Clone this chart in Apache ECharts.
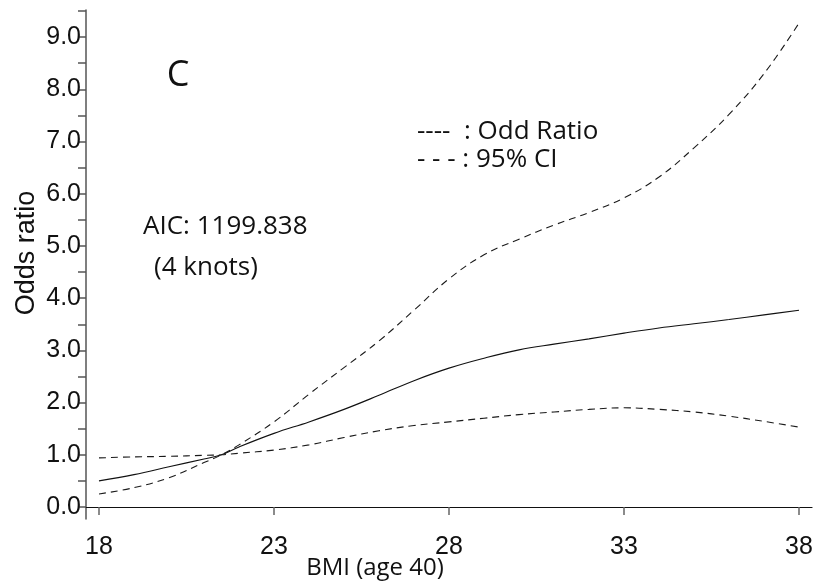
<!DOCTYPE html>
<html>
<head>
<meta charset="utf-8">
<script src="https://cdn.jsdelivr.net/npm/echarts@6/dist/echarts.min.js"></script>
<style>html,body{margin:0;padding:0;background:#fff}#c{width:821px;height:586px}</style>
</head>
<body>
<div id="c"></div>
<script>
const bmi      = [18, 19, 20, 21, 21.5, 22, 23, 24, 25, 26, 27, 28, 29, 30, 31, 32, 33, 34, 35, 36, 37, 38];
const oddRatio = [0.50, 0.62, 0.77, 0.92, 1.00, 1.15, 1.41, 1.63, 1.87, 2.14, 2.42, 2.66, 2.85, 3.01, 3.12, 3.22, 3.33, 3.43, 3.51, 3.59, 3.68, 3.77];
const ciUpper  = [0.25, 0.37, 0.56, 0.85, 1.00, 1.19, 1.63, 2.16, 2.67, 3.18, 3.77, 4.37, 4.83, 5.13, 5.40, 5.64, 5.92, 6.32, 6.88, 7.52, 8.30, 9.27];
const ciLower  = [0.94, 0.96, 0.97, 0.99, 1.00, 1.03, 1.09, 1.19, 1.33, 1.46, 1.56, 1.63, 1.70, 1.77, 1.82, 1.87, 1.90, 1.87, 1.82, 1.74, 1.64, 1.53];
const xTicks = [18, 23, 28, 33, 38];
const yLabels = [0, 1, 2, 3, 4, 5, 6, 7, 8, 9];
const yTicks = [0, 0.5, 1, 1.5, 2, 2.5, 3, 3.5, 4, 4.5, 5, 5.5, 6, 6.5, 7, 7.5, 8, 8.5, 9, 9.5];

const pairs = ys => bmi.map((x, i) => [x, ys[i]]);
const chart = echarts.init(document.getElementById('c'));
const dashed = { color: '#1a1a1a', width: 1.1, type: [7, 5] };
chart.setOption({
  animation: false,
  grid: { left: 86, right: 9, top: 10, bottom: 67 },
  xAxis: {
    type: 'value', min: 17.629, max: 38.371,
    axisLine: { lineStyle: { color: '#111', width: 1.2 } },
    axisTick: { customValues: xTicks, length: 8, lineStyle: { color: '#666', width: 1.5 } },
    axisLabel: { customValues: xTicks, margin: 16, color: '#111', fontSize: 25, fontFamily: 'Liberation Sans' },
    splitLine: { show: false }
  },
  yAxis: {
    type: 'value', min: -0.23, max: 9.52,
    axisLine: { show: true, lineStyle: { color: '#555', width: 1.5 } },
    axisTick: { customValues: yTicks, length: 8, lineStyle: { color: '#555', width: 1.5 } },
    axisLabel: { customValues: yLabels, margin: 5, color: '#111', fontSize: 25, fontFamily: 'Liberation Sans',
      formatter: v => Number(v).toFixed(1) },
    splitLine: { show: false }
  },
  series: [
    { type: 'line', data: pairs(oddRatio), smooth: 0.4, symbol: 'none', lineStyle: { color: '#111', width: 1.1 } },
    { type: 'line', data: pairs(ciUpper), smooth: 0.4, symbol: 'none', lineStyle: dashed },
    { type: 'line', data: pairs(ciLower), smooth: 0.4, symbol: 'none', lineStyle: dashed }
  ],
  graphic: [
    { type: 'text', x: 27, y: 253, rotation: Math.PI / 2,
      style: { text: 'Odds ratio', font: '27px "Liberation Sans"', fill: '#111', align: 'center', verticalAlign: 'middle' } },
    { type: 'text', x: 375, y: 568,
      style: { text: 'BMI (age 40)', font: '24px "Open Sans"', fill: '#111', align: 'center', verticalAlign: 'middle' } },
    { type: 'text', x: 178, y: 76,
      style: { text: 'C', font: '36px "Open Sans"', fill: '#111', align: 'center', verticalAlign: 'middle' } },
    { type: 'text', x: 143, y: 227,
      style: { text: 'AIC: 1199.838', font: '26px "Open Sans"', fill: '#111', align: 'left', verticalAlign: 'middle' } },
    { type: 'text', x: 154, y: 268,
      style: { text: '(4 knots)', font: '26px "Open Sans"', fill: '#111', align: 'left', verticalAlign: 'middle' } },
    { type: 'text', x: 417, y: 132,
      style: { text: '----  : Odd Ratio', font: '26px "Open Sans"', fill: '#111', align: 'left', verticalAlign: 'middle' } },
    { type: 'text', x: 417, y: 160,
      style: { text: '- - - : 95% CI', font: '26px "Open Sans"', fill: '#111', align: 'left', verticalAlign: 'middle' } }
  ]
});
</script>
</body>
</html>
